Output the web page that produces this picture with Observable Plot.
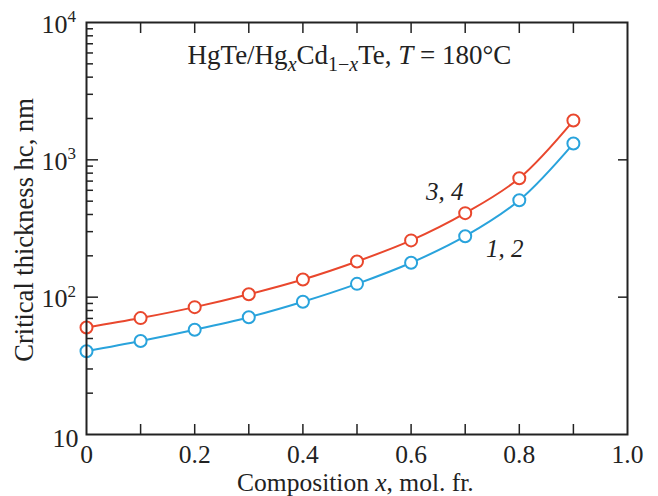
<!DOCTYPE html>
<html>
<head>
<meta charset="utf-8">
<script src="https://cdn.jsdelivr.net/npm/d3@7"></script>
<script src="https://cdn.jsdelivr.net/npm/@observablehq/plot@0.6"></script>
<style>
  html, body { margin: 0; padding: 0; background: #fff; }
  #chart svg { font-family: "Liberation Serif", "Times New Roman", serif; }
</style>
</head>
<body>
<div id="chart"></div>
<script>
// Composition x (mol. fr.)
const composition = [0, 0.1, 0.2, 0.3, 0.4, 0.5, 0.6, 0.7, 0.8, 0.9];
// Critical thickness hc, nm — curves 1, 2 (blue) and 3, 4 (red)
const hc12 = [40.4, 47.9, 57.9, 71.5, 92.6, 125, 178, 278, 508, 1314];
const hc34 = [60.2, 70.4, 84.6, 105, 134.5, 182, 259, 409, 735, 1932];
const seriesNames = ["1, 2", "3, 4"];
const seriesColors = ["#29a3dc", "#e9472d"];
// Ticks
const xTicks = [0, 0.2, 0.4, 0.6, 0.8, 1.0];
const xTickLabels = ["0", "0.2", "0.4", "0.6", "0.8", "1.0"];
const xMinorTicks = [0.1, 0.2, 0.3, 0.4, 0.5, 0.6, 0.7, 0.8, 0.9];
const yMajorTicks = [100, 1000];
const yLabelTicks = [100, 1000, 10000];
const yExponents = ["2", "3", "4"];
const yMinorTicks = [2,3,4,5,6,7,8,9].flatMap(m => [10, 100, 1000].map(d => m * d));
// Series label anchors
const labelX = [0.773, 0.662];
const labelY = [226, 579];

const rows = [];
composition.forEach((x, i) => {
  rows.push({x, hc: hc12[i], s: seriesNames[0]});
  rows.push({x, hc: hc34[i], s: seriesNames[1]});
});
const labels = seriesNames.map((s, i) => ({s, x: labelX[i], y: labelY[i]}));

const chart = Plot.plot({
  width: 658,
  height: 496,
  marginLeft: 86,
  marginRight: 31,
  marginTop: 22,
  marginBottom: 62,
  style: {fontFamily: "Liberation Serif, Times New Roman, serif", background: "#fff"},
  x: {domain: [0, 1]},
  y: {type: "log", domain: [10, 10000]},
  color: {domain: seriesNames, range: seriesColors},
  marks: [
    // inward ticks
    Plot.axisX(xMinorTicks, {anchor: "bottom", tickSize: -10, text: null, label: null, strokeWidth: 1.5, stroke: "#222"}),
    Plot.axisX(xMinorTicks, {anchor: "top", tickSize: -10, text: null, label: null, strokeWidth: 1.5, stroke: "#222"}),
    Plot.axisY(yMajorTicks, {anchor: "left", tickSize: -12, text: null, label: null, strokeWidth: 1.5, stroke: "#222"}),
    Plot.axisY(yMinorTicks, {anchor: "left", tickSize: -7, text: null, label: null, strokeWidth: 1.5, stroke: "#222"}),
    Plot.axisY(yMajorTicks, {anchor: "right", tickSize: -10, text: null, label: null, strokeWidth: 1.5, stroke: "#222"}),
    // x tick labels
    Plot.axisX(xTicks, {anchor: "bottom", tickSize: 0, tickPadding: 10, fontSize: 25.5, label: null,
      tickFormat: d => xTickLabels[xTicks.indexOf(d)], fill: "#222"}),
    // y tick labels with superscript exponents
    Plot.text(yLabelTicks, {y: d => d, frameAnchor: "left", text: () => "10", textAnchor: "end", dx: -19, dy: 2, fontSize: 26, fill: "#222"}),
    Plot.text(yLabelTicks, {y: d => d, frameAnchor: "left", text: (d, i) => yExponents[i], textAnchor: "start", dx: -19, dy: -6, fontSize: 17, fill: "#222"}),
    Plot.text([10], {y: d => d, frameAnchor: "left", text: () => "10", textAnchor: "end", dx: -8, dy: 4, fontSize: 26, fill: "#222"}),
    // data
    Plot.line(rows, {x: "x", y: "hc", stroke: "s", strokeWidth: 2, curve: "catmull-rom"}),
    Plot.dot(rows, {x: "x", y: "hc", stroke: "s", fill: "white", r: 6, strokeWidth: 2}),
    Plot.text(labels, {x: "x", y: "y", text: "s", fontSize: 25, fontStyle: "italic", fill: "#222"}),
    Plot.frame({stroke: "#222", strokeWidth: 2})
  ]
});
document.getElementById("chart").appendChild(chart);

// Rich-text annotations (title, axis titles)
const svg = d3.select(chart);
const xs = chart.scale("x");
const title = svg.append("text")
  .attr("x", xs.apply(0.487)).attr("y", 64)
  .attr("text-anchor", "middle").attr("font-size", 27).attr("fill", "#222");
title.append("tspan").text("HgTe/Hg");
title.append("tspan").attr("dy", 7).attr("font-size", 20).attr("font-style", "italic").text("x");
title.append("tspan").attr("dy", -7).text("Cd");
title.append("tspan").attr("dy", 7).attr("font-size", 20).text("1\u2212");
title.append("tspan").attr("font-size", 20).attr("font-style", "italic").text("x");
title.append("tspan").attr("dy", -7).text("Te, ");
title.append("tspan").attr("font-style", "italic").text("T");
title.append("tspan").text(" = 180\u00B0C");

const xlab = svg.append("text")
  .attr("x", xs.apply(0.498)).attr("y", 490.5)
  .attr("text-anchor", "middle").attr("font-size", 25.5).attr("fill", "#222");
xlab.append("tspan").text("Composition ");
xlab.append("tspan").attr("font-style", "italic").text("x");
xlab.append("tspan").text(", mol. fr.");

svg.append("text")
  .attr("transform", "translate(33,230) rotate(-90)")
  .attr("text-anchor", "middle").attr("font-size", 26.5).attr("fill", "#222")
  .text("Critical thickness hc, nm");
</script>
</body>
</html>
